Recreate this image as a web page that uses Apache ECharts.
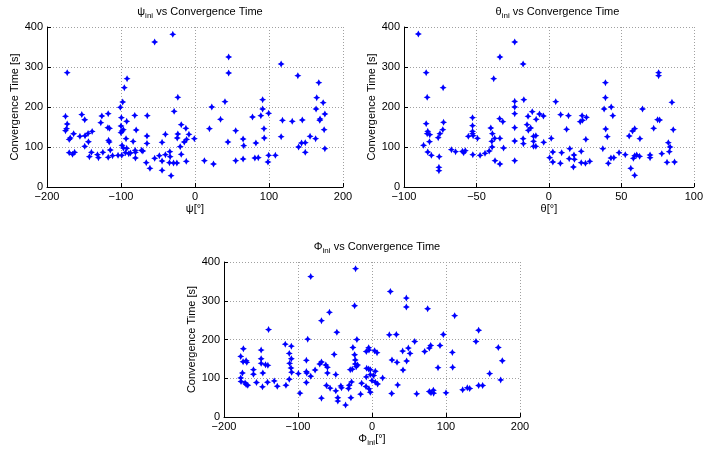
<!DOCTYPE html>
<html>
<head>
<meta charset="utf-8">
<script src="https://cdn.jsdelivr.net/npm/echarts@6/dist/echarts.min.js"></script>
<style>html,body{margin:0;padding:0;background:#fff}#c{width:706px;height:452px}</style>
</head>
<body>
<div id="c"></div>
<script>
// ψ_ini [deg] vs convergence time [s]
var psiData = [[-172.7,285.8],[-54.5,362.5],[-30,381.7],[-91.8,270.8],[-95.5,248.3],[-97.7,212.5],[-23.2,224.2],[-28.2,189.2],[-100.9,199.2],[-175,176.7],[-172.7,157.5],[-173.6,145.8],[-175,140.8],[-168.6,122.5],[-170,119],[-164,133],[-153,181],[-149,168],[-155.5,126.7],[-148.6,128],[-144.5,134],[-139,139],[-144,113],[-149,101.7],[-170,85.8],[-165.5,81.7],[-162.7,86.7],[-142.7,75.8],[-140,86.7],[-131.8,80.8],[-130.5,73.3],[-124.5,86.7],[-125.9,177.5],[-127.3,160.8],[-117.3,183.3],[-117.7,148.3],[-115.5,146.7],[-116.8,116.7],[-115.9,112.5],[-114.5,92.5],[-117.3,74.2],[-111.4,78.3],[-104,79.2],[-99.5,173.3],[-100,152.5],[-98.6,140],[-100,135.8],[-96.8,143.3],[-98.6,104.2],[-96.8,97.5],[-93.2,120.8],[-92.3,164.2],[-92.3,96.7],[-99,79.2],[-94,85.8],[-89.5,83.3],[-87.3,85],[-83.6,114],[-81.4,179],[-79.5,142.5],[-80.9,91.7],[-80.5,86.7],[-80.5,72.5],[-72.3,91.7],[-70.5,90],[-64.5,178.3],[-64.9,127.5],[-64.9,109],[-65.9,60.8],[-60.9,46.7],[-54.5,71.7],[-48.2,78.3],[-44.5,65],[-44.5,41.7],[-44.5,111.7],[-40,131.7],[-40,80.8],[-34,88.3],[-33.6,75.8],[-34.5,60.8],[-32.3,28.3],[-29,60],[-24.5,60],[-23.2,132.5],[-24,122.5],[-18.6,155.8],[-18.6,81.7],[-20,100.8],[-14.5,112.5],[-12.3,146.7],[-11.8,64.2],[-8.2,131.7],[-11.4,119],[-0.9,120.8],
[45.5,325],[45.5,285],[116.4,307.5],[139,278.3],[167.3,260.8],[22.7,200],[40.5,213.3],[34.5,169.2],[19.5,145.8],[44.5,112.5],[55,140.8],[65,120],[65.9,103.3],[55,65.8],[65,70],[12.7,65.8],[25,57.5],[77.7,175],[89,178.3],[91.4,195],[91.4,218.3],[99.5,184.2],[93.2,145.8],[93.6,122.5],[82.3,110],[80.9,72.5],[85.5,73.3],[99.5,79.2],[98.6,62.5],[108.6,79.2],[116.4,125.8],[118.2,166.7],[131.4,164.2],[145,167.5],[140,100],[144,110],[149,110.8],[149,86.7],[155.5,126.7],[163,120.8],[163.6,195],[164.5,223.3],[173.2,210.8],[169,170],[168.6,166.7],[175.5,182.5],[174.5,143.3],[175.5,95.8]];

// θ_ini [deg] vs convergence time [s]
var thetaData = [[-90.1,382.5],[-84.7,285.8],[-84,224.2],[-73,248.3],[-84.7,158.3],[-83.6,139.2],[-84,133.3],[-82.2,130.8],[-82.4,113.3],[-86.5,104.2],[-83.6,87.5],[-81.1,79.2],[-72.7,161.7],[-73.2,143.3],[-75.2,133.3],[-76.4,123.3],[-75.7,75.8],[-75.9,49.2],[-75.9,40.8],[-67.3,93.3],[-64.4,88.3],[-59.7,89.2],[-58.8,85.8],[-57.7,90.8],[-55.6,126.7],[-52.7,173.3],[-52.7,153.3],[-52.7,139.2],[-52.7,133.3],[-52.3,128.3],[-49.3,121.7],[-52.5,80.8],[-47.5,79.2],[-44.1,84.2],[-41.2,90],[-39.2,100],[-40.1,147.5],[-39,133.3],[-39.4,114.2],[-37.4,121.7],[-33.8,121.7],[-34,170.8],[-31.8,163.3],[-31.3,97.5],[-37.2,65.8],[-33.8,57.5],[-38.1,270.8],[-33.8,325],[-23.6,362.5],[-17.8,307.5],[-23.6,214.2],[-23.6,200],[-23.6,183.3],[-17.3,218.3],[-23.6,148.3],[-23.6,115],[-23.6,65.8],[-17.8,120.8],[-17.6,108.3],[-14.4,176.7],[-11.5,188.3],[-15.1,155.8],[-12.6,147.5],[-14.2,141.7],[-10.6,126.7],[-9,128.3],[-8.8,169.2],[-6.5,182.5],[-3.8,177.5],[-10.6,114.2],[-10.6,101.7],[-9,101.7],[-3.6,111.7],
[4.7,213.3],[1.6,121.7],[2.7,87.5],[0.5,73.3],[2.7,62.5],[7.9,59.2],[8.8,85.8],[8.1,180.8],[13.5,178.3],[12.2,144.2],[14.4,95.8],[14,70.8],[17.3,80],[16.9,50],[17.6,69.2],[22.3,89.2],[22.3,60.8],[21.6,163.3],[23.2,166.7],[22.9,178.3],[25.9,174.2],[25.5,119.2],[25.2,59.2],[28.2,64.2],[39,260.8],[39,223.3],[38.1,195],[43,200],[44.1,178.3],[39.2,145],[40.3,125.8],[37.2,95.8],[42.8,72.5],[44.8,73.3],[41,59.2],[48.4,85.8],[52.7,80.8],[55.4,127.5],[57.7,140],[59.2,145.8],[62.8,120.8],[59.2,78.3],[60.6,80],[62.6,76.7],[58.3,71.7],[56.5,46.7],[59.2,29.2],[64.6,195],[69.8,80],[69.8,73.3],[72.3,146.7],[75,168.3],[76.4,167.5],[75.7,285.8],[75.7,278.3],[77.9,83.3],[81.5,61.7],[82.4,110.8],[83.6,100],[83.1,88.3],[84.9,211.7],[85.8,143.3],[86.7,62.5]];

// Φ_ini [deg] vs convergence time [s]
var phiData = [[-82.8,362.4],[-22.2,382.9],[-23.5,287.2],[-57.5,270.1],[-68.3,248.7],[-47.5,218.8],[-139.8,225.6],[-86.9,200.9],[-20.4,200],[-173.8,176.1],[-177.4,156.4],[-174.2,142.7],[-170.1,145.3],[-169.2,141],[-175.1,113.7],[-177.4,100.9],[-177,91.5],[-171.5,88],[-170.1,83.8],[-167.9,82],[-160.2,122.2],[-160.2,110.3],[-156.1,88.9],[-149.8,172.6],[-149.8,150.4],[-149.8,138.5],[-147.5,113.7],[-143.9,135],[-140.7,133.3],[-148,77.8],[-141.2,89.7],[-132.1,93.2],[-128,79.5],[-117.2,188],[-109,182.9],[-111.8,164.1],[-109,150.4],[-111.3,138.5],[-109.5,126.5],[-108.6,115.4],[-111.8,97.4],[-116.3,82],[-99.5,112],[-97.3,61.5],[-88.7,146.2],[-88.7,117.1],[-88.2,113.7],[-88.7,88.9],[-82.8,105.1],[-76.9,121.4],[-70.6,136.8],[-68.3,141.9],[-68.3,48.7],[-62.4,134.2],[-60.2,128.2],[-60.2,113.7],[-61.5,81.2],[-56.6,74.4],[-51.1,161.5],[-48.9,109.4],[-48.9,67.5],[-46.2,49.6],[-46.2,41],[-42.1,80.3],[-41.2,75.2],[-35.7,30.8],[-31.7,73.5],[-30.8,82],[-29.4,122.2],[-26.7,123.1],[-28.5,49.6],[-27.6,90.6],[-25.8,179.5],[-23.5,160.7],[-22.6,147],[-22.6,136.8],[-21.3,129.9],[-19.5,134.2],[-15.4,59],[-14,87.2],[-7.7,103.4],[-7.7,169.2],[-4.5,178.6],[-4.1,172.6],[-8.1,78.6],[-7.2,125.6],[-4.5,123.9],[-2.3,109.4],[-4.1,72.6],[-2.3,122.2],
[24.8,323.9],[46.4,306.8],[46.4,283.8],[75.2,279.5],[111.7,261.5],[144.1,223.9],[23.4,212],[32.9,212.8],[96.4,212.8],[57.7,194.9],[140.5,194.9],[170.7,179.5],[108.6,166.7],[176.1,145.3],[109,128.2],[159,112],[173.9,95.7],[49.1,177.8],[41.4,170.1],[51.4,164.1],[46.8,144.4],[41.9,121.4],[27,147],[33.8,141],[71.2,169.2],[77.5,177.8],[79.3,184.6],[91.9,184.6],[89.2,127.4],[34.7,82.9],[26.6,60.7],[60.4,59.8],[77.5,65.8],[79.7,62.4],[82.9,69.2],[83.3,61.5],[100,62.4],[122.5,70.1],[128.8,75.2],[132,73.5],[144.1,81.2],[149.5,81.2],[14.4,100.9],[3.5,171],[6.8,166],[4.5,118],[2.2,107],[0,94],[4.5,90],[7.6,85],[-2.3,64]];

var titles = ['{n|ψ}{s|ini}{n| vs Convergence Time}', '{n|θ}{s|ini}{n| vs Convergence Time}', '{n|Φ}{s|ini}{n| vs Convergence Time}'];
var xNames = ['{n|ψ[°]}', '{n|θ[°]}', '{n|Φ}{s|ini}{n|[°]}'];
var yName = 'Convergence Time [s]';
var xRanges = [[-200, 200, 100], [-100, 100, 50], [-200, 200, 100]];
var yRange = [0, 400, 100];

var FONT = 'Liberation Sans';
var rich = {
  n: {fontSize: 11, fontFamily: FONT, color: '#000', verticalAlign: 'bottom', padding: [0, 0, 3, 0]},
  s: {fontSize: 8, fontFamily: FONT, color: '#000', verticalAlign: 'bottom'}
};
var grids = [
  {left: 47, top: 27, width: 296, height: 160},
  {left: 404, top: 27, width: 297, height: 160},
  {left: 224, top: 262, width: 296, height: 155}
];
var datasets = [psiData, thetaData, phiData];
var star = 'path://M0,-10 L3.4,-3.4 L10,0 L3.4,3.4 L0,10 L-3.4,3.4 L-10,0 L-3.4,-3.4 Z';

var option = {
  backgroundColor: '#fff',
  animation: false,
  title: grids.map(function (g, i) {
    return {
      text: titles[i], left: g.left + g.width / 2, top: g.top - 26, textAlign: 'center',
      textStyle: {fontSize: 11, fontWeight: 'normal', fontFamily: FONT, color: '#000', rich: rich}
    };
  }),
  grid: grids,
  xAxis: grids.map(function (g, i) {
    return {
      type: 'value', gridIndex: i, min: xRanges[i][0], max: xRanges[i][1], interval: xRanges[i][2],
      name: xNames[i], nameLocation: 'middle', nameGap: 16,
      nameTextStyle: {fontSize: 11, fontFamily: FONT, color: '#000', rich: rich},
      axisLine: {onZero: false, lineStyle: {color: '#000', width: 1}},
      axisTick: {inside: true, length: 4, lineStyle: {color: '#000'}},
      axisLabel: {fontSize: 11, fontFamily: FONT, color: '#000', margin: 4,
        formatter: function (v) { return v < 0 ? '\u2212' + (-v) : String(v); }},
      splitLine: {show: true, lineStyle: {color: '#a0a0a0', type: [1, 2], width: 1}}
    };
  }),
  yAxis: grids.map(function (g, i) {
    return {
      type: 'value', gridIndex: i, min: yRange[0], max: yRange[1], interval: yRange[2],
      name: yName, nameLocation: 'middle', nameGap: 27,
      nameTextStyle: {fontSize: 11, fontFamily: FONT, color: '#000'},
      axisLine: {show: true, onZero: false, lineStyle: {color: '#000', width: 1}},
      axisTick: {show: true, inside: true, length: 4, lineStyle: {color: '#000'}},
      axisLabel: {fontSize: 11, fontFamily: FONT, color: '#000', margin: 4},
      splitLine: {show: true, lineStyle: {color: '#a0a0a0', type: [1, 2], width: 1}}
    };
  }),
  series: datasets.map(function (d, i) {
    return {
      type: 'scatter', xAxisIndex: i, yAxisIndex: i, data: d,
      symbol: star, symbolSize: 7,
      itemStyle: {color: '#0000ff', opacity: 1}
    };
  })
};
var chart = echarts.init(document.getElementById('c'), null, {renderer: 'canvas'});
chart.setOption(option);
</script>
</body>
</html>
